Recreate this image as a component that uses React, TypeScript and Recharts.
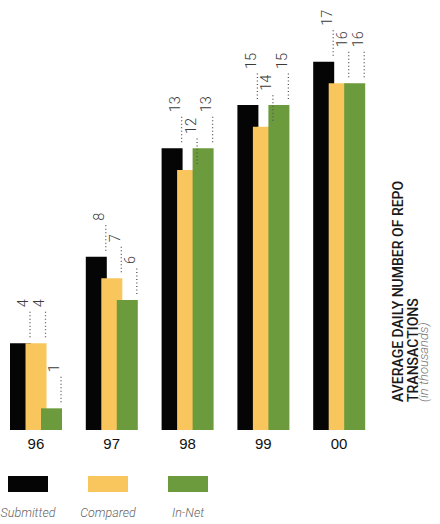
import React from 'react';
import { BarChart, Bar, XAxis, YAxis, LabelList } from 'recharts';

const years = ['96', '97', '98', '99', '00'];
const submitted = [4, 8, 13, 15, 17];
const compared = [4, 7, 12, 14, 16];
const inNet = [1, 6, 13, 15, 16];

const seriesNames = ['Submitted', 'Compared', 'In-Net'];
const seriesKeys = ['submitted', 'compared', 'inNet'];
const seriesColors = ['#050505', '#F8C65C', '#6C9B3D'];

const titleLines = ['AVERAGE DAILY NUMBER OF REPO', 'TRANSACTIONS'];
const titleNote = '(in thousands)';

const data = years.map((year, i) => ({
  year,
  submitted: submitted[i],
  compared: compared[i],
  inNet: inNet[i],
}));

const ValueLabel = (props: any) => {
  const { x, y, width, value } = props;
  const lx = x + width - 1;
  const tx = lx - 6;
  const ty = y - 36;
  return (
    <g>
      <line x1={lx} x2={lx} y1={y - 6} y2={y - 33} stroke="#555" strokeWidth={1.3} strokeDasharray="1 2.5" />
      <text
        x={tx}
        y={ty}
        transform={`rotate(-90 ${tx} ${ty})`}
        textAnchor="start"
        dominantBaseline="central"
        fontSize={14.5}
        fontFamily="Roboto"
        fontWeight={300}
        fill="#3a3a3a"
      >
        {value}
      </text>
    </g>
  );
};

export default function App() {
  return (
    <div style={{ position: 'absolute', left: 0, top: 0, width: 440, height: 524, background: '#fff', overflow: 'hidden' }}>
      <div style={{ position: 'absolute', left: -2, top: 0 }}>
        <BarChart
          width={442}
          height={460}
          data={data}
          margin={{ top: 40, right: 63, left: 0, bottom: 0 }}
          barSize={21}
          barGap={-5.5}
        >
          <XAxis
            dataKey="year"
            height={30}
            axisLine={false}
            tickLine={false}
            tick={{ fontSize: 15, fill: '#111', fontFamily: 'Liberation Sans' }}
          />
          <YAxis hide domain={[0, 18]} />
          {seriesKeys.map((key, i) => (
            <Bar key={key} dataKey={key} fill={seriesColors[i]} isAnimationActive={false}>
              <LabelList dataKey={key} content={ValueLabel} />
            </Bar>
          ))}
        </BarChart>
      </div>
      <svg width={440} height={524} style={{ position: 'absolute', left: 0, top: 0, pointerEvents: 'none' }}>
        {titleLines.map((line, i) => (
          <text
            key={line}
            x={403 + i * 15}
            y={402}
            transform={`rotate(-90 ${403 + i * 15} 402)`}
            fontSize={14}
            fontFamily="Roboto"
            fontWeight={500}
            fill="#1a1a1a"
          >
            {line}
          </text>
        ))}
        <text
          x={428}
          y={402}
          transform="rotate(-90 428 402)"
          fontSize={13}
          fontFamily="Roboto"
          fontStyle="italic"
          fontWeight={300}
          fill="#777"
        >
          {titleNote}
        </text>
        {seriesNames.map((name, i) => (
          <g key={name}>
            <rect x={8 + i * 80} y={476} width={40} height={16} fill={seriesColors[i]} />
            <text
              x={28 + i * 80}
              y={517}
              textAnchor="middle"
              fontSize={12.5}
              fontFamily="Roboto"
              fontStyle="italic"
              fontWeight={300}
              fill="#666"
            >
              {name}
            </text>
          </g>
        ))}
      </svg>
    </div>
  );
}
